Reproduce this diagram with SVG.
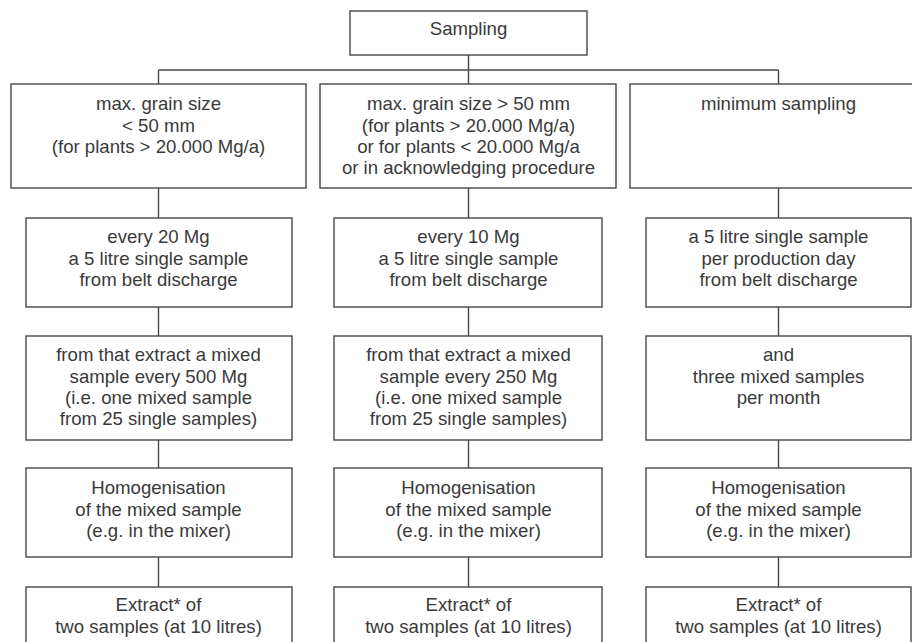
<svg xmlns="http://www.w3.org/2000/svg" width="912" height="642" viewBox="0 0 912 642">
<style>
rect.b{fill:#fff;stroke:#474747;stroke-width:1.4}
.c line{stroke:#474747;stroke-width:1.4}
text{font-family:"Liberation Sans",Arial,sans-serif;font-size:18.6px;fill:#3a3a3a;text-anchor:middle}
</style>
<rect width="912" height="642" fill="#fff"/>
<g id="connectors" class="c">
<line x1="468.5" y1="55" x2="468.5" y2="70"/>
<line x1="158.5" y1="70" x2="778.5" y2="70"/>
<line x1="158.5" y1="70" x2="158.5" y2="84"/>
<line x1="468.5" y1="70" x2="468.5" y2="84"/>
<line x1="778.5" y1="70" x2="778.5" y2="84"/>
<line x1="158.5" y1="188" x2="158.5" y2="218"/>
<line x1="158.5" y1="307" x2="158.5" y2="336"/>
<line x1="158.5" y1="440" x2="158.5" y2="468"/>
<line x1="158.5" y1="557" x2="158.5" y2="587"/>
<line x1="468.5" y1="188" x2="468.5" y2="218"/>
<line x1="468.5" y1="307" x2="468.5" y2="336"/>
<line x1="468.5" y1="440" x2="468.5" y2="468"/>
<line x1="468.5" y1="557" x2="468.5" y2="587"/>
<line x1="778.5" y1="188" x2="778.5" y2="218"/>
<line x1="778.5" y1="307" x2="778.5" y2="336"/>
<line x1="778.5" y1="440" x2="778.5" y2="468"/>
<line x1="778.5" y1="557" x2="778.5" y2="587"/>
</g>
<g id="sampling"><rect class="b" x="350" y="11" width="237" height="44"/><text x="468.5" y="35">Sampling</text></g>
<g id="c1r1"><rect class="b" x="11" y="84" width="295" height="104"/>
<text x="158.5" y="110">max. grain size</text><text x="158.5" y="131.5">&lt; 50 mm</text><text x="158.5" y="153">(for plants &gt; 20.000 Mg/a)</text></g>
<g id="c2r1"><rect class="b" x="320" y="84" width="296" height="104"/>
<text x="468.5" y="110">max. grain size &gt; 50 mm</text><text x="468.5" y="131.5">(for plants &gt; 20.000 Mg/a)</text><text x="468.5" y="153">or for plants &lt; 20.000 Mg/a</text><text x="468.5" y="174">or in acknowledging procedure</text></g>
<g id="c3r1"><rect class="b" x="630" y="84" width="286" height="104"/>
<text x="778.5" y="110">minimum sampling</text></g>
<g id="c1r2"><rect class="b" x="26" y="218" width="266" height="89"/>
<text x="158.5" y="243">every 20 Mg</text><text x="158.5" y="264.5">a 5 litre single sample</text><text x="158.5" y="286">from belt discharge</text></g>
<g id="c2r2"><rect class="b" x="334" y="218" width="268" height="89"/>
<text x="468.5" y="243">every 10 Mg</text><text x="468.5" y="264.5">a 5 litre single sample</text><text x="468.5" y="286">from belt discharge</text></g>
<g id="c3r2"><rect class="b" x="646" y="218" width="265" height="89"/>
<text x="778.5" y="243">a 5 litre single sample</text><text x="778.5" y="264.5">per production day</text><text x="778.5" y="286">from belt discharge</text></g>
<g id="c1r3"><rect class="b" x="26" y="336" width="266" height="104"/>
<text x="158.5" y="361">from that extract a mixed</text><text x="158.5" y="382.5">sample every 500 Mg</text><text x="158.5" y="404">(i.e. one mixed sample</text><text x="158.5" y="425">from 25 single samples)</text></g>
<g id="c2r3"><rect class="b" x="334" y="336" width="268" height="104"/>
<text x="468.5" y="361">from that extract a mixed</text><text x="468.5" y="382.5">sample every 250 Mg</text><text x="468.5" y="404">(i.e. one mixed sample</text><text x="468.5" y="425">from 25 single samples)</text></g>
<g id="c3r3"><rect class="b" x="646" y="336" width="265" height="104"/>
<text x="778.5" y="361">and</text><text x="778.5" y="382.5">three mixed samples</text><text x="778.5" y="404">per month</text></g>
<g id="c1r4"><rect class="b" x="26" y="468" width="266" height="89"/>
<text x="158.5" y="494">Homogenisation</text><text x="158.5" y="515.5">of the mixed sample</text><text x="158.5" y="537">(e.g. in the mixer)</text></g>
<g id="c2r4"><rect class="b" x="334" y="468" width="268" height="89"/>
<text x="468.5" y="494">Homogenisation</text><text x="468.5" y="515.5">of the mixed sample</text><text x="468.5" y="537">(e.g. in the mixer)</text></g>
<g id="c3r4"><rect class="b" x="646" y="468" width="265" height="89"/>
<text x="778.5" y="494">Homogenisation</text><text x="778.5" y="515.5">of the mixed sample</text><text x="778.5" y="537">(e.g. in the mixer)</text></g>
<g id="c1r5"><rect class="b" x="26" y="587" width="266" height="70"/>
<text x="158.5" y="611">Extract* of</text><text x="158.5" y="633">two samples (at 10 litres)</text></g>
<g id="c2r5"><rect class="b" x="334" y="587" width="268" height="70"/>
<text x="468.5" y="611">Extract* of</text><text x="468.5" y="633">two samples (at 10 litres)</text></g>
<g id="c3r5"><rect class="b" x="646" y="587" width="265" height="70"/>
<text x="778.5" y="611">Extract* of</text><text x="778.5" y="633">two samples (at 10 litres)</text></g>
</svg>
